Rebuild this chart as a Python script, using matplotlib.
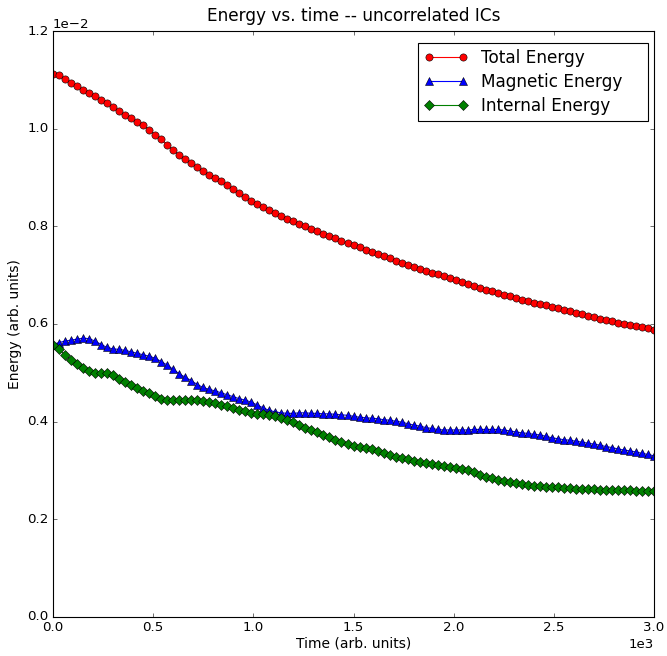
import numpy as np
import matplotlib
matplotlib.use("Agg")
import matplotlib.pyplot as plt

plt.style.use("classic")

# time axis (arb. units), one sample every 30
time = np.arange(0, 3001, 30)

# energies, in units of 1e-3
total = [11.13, 11.09, 11.02, 10.94, 10.87, 10.80, 10.73, 10.66, 10.59, 10.52,
         10.44, 10.36, 10.28, 10.21, 10.14, 10.07, 9.98, 9.88, 9.78, 9.67,
         9.56, 9.46, 9.37, 9.29, 9.21, 9.13, 9.06, 8.99, 8.92, 8.84,
         8.76, 8.68, 8.60, 8.52, 8.45, 8.39, 8.33, 8.27, 8.21, 8.15,
         8.10, 8.05, 8.00, 7.95, 7.90, 7.85, 7.81, 7.76, 7.71, 7.66,
         7.61, 7.57, 7.52, 7.48, 7.44, 7.39, 7.35, 7.30, 7.25, 7.21,
         7.16, 7.12, 7.08, 7.05, 7.02, 6.98, 6.94, 6.90, 6.86, 6.82,
         6.78, 6.74, 6.70, 6.67, 6.63, 6.60, 6.57, 6.53, 6.50, 6.47,
         6.44, 6.41, 6.38, 6.35, 6.32, 6.29, 6.26, 6.23, 6.20, 6.17,
         6.14, 6.11, 6.08, 6.06, 6.03, 6.00, 5.98, 5.96, 5.93, 5.91,
         5.88]

magnetic = [5.58, 5.62, 5.65, 5.67, 5.69, 5.71, 5.70, 5.65, 5.58, 5.52,
            5.49, 5.48, 5.46, 5.43, 5.40, 5.37, 5.34, 5.30, 5.23, 5.16,
            5.07, 4.98, 4.91, 4.84, 4.76, 4.70, 4.66, 4.63, 4.59, 4.55,
            4.51, 4.47, 4.44, 4.40, 4.34, 4.28, 4.23, 4.20, 4.18, 4.17,
            4.17, 4.18, 4.18, 4.17, 4.17, 4.16, 4.16, 4.15, 4.14, 4.13,
            4.11, 4.09, 4.08, 4.07, 4.06, 4.04, 4.03, 4.01, 3.99, 3.96,
            3.93, 3.91, 3.88, 3.86, 3.84, 3.83, 3.83, 3.83, 3.83, 3.83,
            3.84, 3.84, 3.84, 3.84, 3.84, 3.83, 3.81, 3.79, 3.77, 3.76,
            3.74, 3.73, 3.70, 3.67, 3.65, 3.63, 3.62, 3.60, 3.58, 3.56,
            3.54, 3.52, 3.49, 3.47, 3.44, 3.42, 3.40, 3.38, 3.35, 3.33,
            3.30]

internal = [5.57, 5.48, 5.37, 5.26, 5.18, 5.10, 5.03, 4.99, 4.99, 4.99,
            4.95, 4.88, 4.81, 4.75, 4.69, 4.63, 4.58, 4.53, 4.47, 4.44,
            4.44, 4.44, 4.44, 4.44, 4.44, 4.43, 4.41, 4.38, 4.35, 4.32,
            4.28, 4.24, 4.21, 4.18, 4.16, 4.15, 4.13, 4.11, 4.08, 4.04,
            3.99, 3.94, 3.88, 3.83, 3.78, 3.73, 3.68, 3.63, 3.58, 3.54,
            3.51, 3.49, 3.46, 3.43, 3.40, 3.36, 3.32, 3.28, 3.25, 3.23,
            3.20, 3.18, 3.16, 3.14, 3.12, 3.10, 3.08, 3.06, 3.04, 3.00,
            2.96, 2.91, 2.87, 2.84, 2.81, 2.79, 2.77, 2.75, 2.73, 2.71,
            2.69, 2.68, 2.67, 2.66, 2.66, 2.65, 2.64, 2.63, 2.63, 2.62,
            2.62, 2.61, 2.61, 2.60, 2.60, 2.60, 2.60, 2.59, 2.59, 2.59,
            2.59]

fig = plt.figure(figsize=(667 / 80, 656 / 80), dpi=80, facecolor="white")
ax = fig.add_axes([0.0795, 0.0595, 0.901, 0.8932])

ax.plot(time, np.array(total) * 1e-3, "r-o", markersize=6.5, mec="k", mew=0.5, label="Total Energy")
ax.plot(time, np.array(magnetic) * 1e-3, "b-^", markersize=7.5, mec="k", mew=0.5, label="Magnetic Energy")
ax.plot(time, np.array(internal) * 1e-3, "g-D", markersize=7, mec="k", mew=0.5, label="Internal Energy")

ax.set_xlim(0, 3000)
ax.set_ylim(0, 0.012)
ax.set_xticks(np.arange(0, 3001, 500))
ax.set_yticks(np.arange(0, 0.0121, 0.002))
ax.ticklabel_format(style="sci", scilimits=(0, 0), useMathText=False)
ax.tick_params(labelsize=12)

ax.set_title("Energy vs. time -- uncorrelated ICs", fontsize=15.2, pad=9)
ax.set_xlabel("Time (arb. units)", fontsize=12.5, labelpad=2)
ax.set_ylabel("Energy (arb. units)", fontsize=12.5)
ax.legend(loc="upper left", numpoints=2, fontsize=15.2, mode="expand",
          bbox_to_anchor=(0.6073, 0.80, 0.3827, 0.1795), borderaxespad=0,
          borderpad=0.35, handlelength=2.6, handletextpad=0.8, labelspacing=0.35)

fig.savefig("out.png", dpi=80, facecolor="white")
